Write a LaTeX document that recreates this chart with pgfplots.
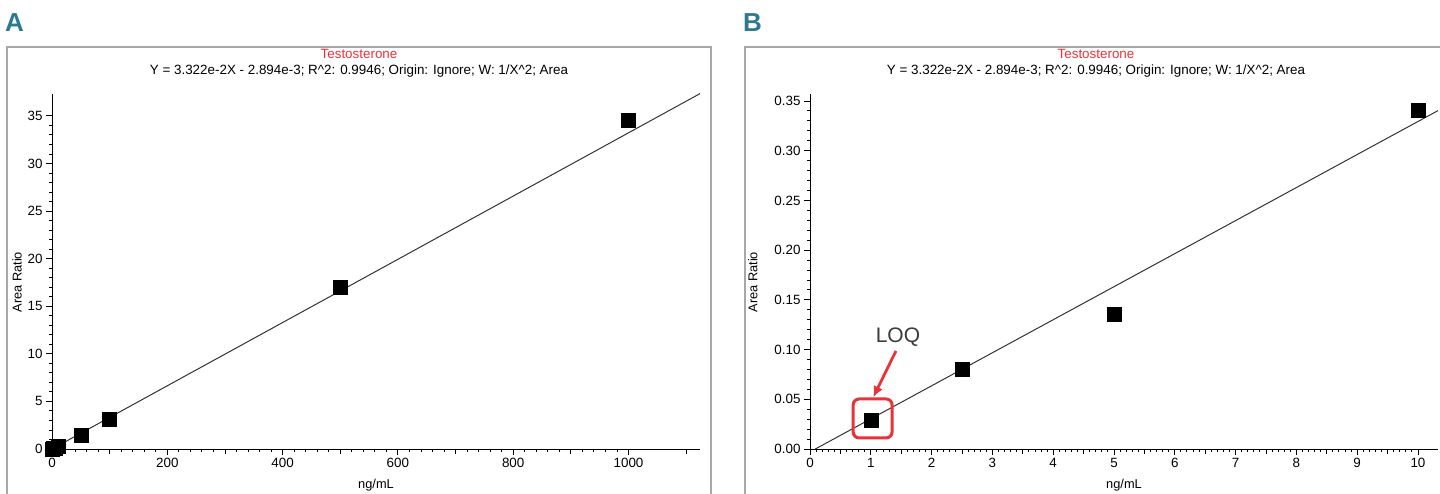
\documentclass[border=0pt]{standalone}
\usepackage{fontspec}
\setmainfont{Liberation Sans}
\usepackage{pgfplots}
\usepackage{pgfplotstable}
\usetikzlibrary{arrows.meta}
\pgfplotsset{compat=1.18}
\definecolor{panelteal}{HTML}{2B7A8F}
\definecolor{loqred}{HTML}{E8333A}
\definecolor{framegray}{HTML}{A8A8A8}
\definecolor{linegray}{HTML}{333333}
\definecolor{loqtext}{HTML}{3A3A3A}
\pgfplotstableread{
x y
1 0.029
2.5 0.080
5 0.136
10 0.341
50 1.47
100 3.15
500 16.95
1000 34.5
}\calib
\pgfplotstableread{
x y
1 0.029
2.5 0.080
5 0.136
10 0.341
}\caliblow
\pgfplotsset{
  calstyle/.style={
    scale only axis,
    anchor=south west,
    axis x line*=bottom,
    axis y line*=left,
    x axis line style={-, black, line width=0.9pt},
    y axis line style={-, black, line width=0.9pt},
    tick align=outside,
    major tick length=6pt,
    minor tick length=3pt,
    tick style={black, line width=0.9pt},
    ticklabel style={font=\fontsize{13.4}{13.4}\selectfont},
    /pgf/number format/assume math mode=true,
    /pgf/number format/1000 sep={},
    label style={font=\fontsize{12.8}{12.8}\selectfont},
    xlabel={ng/mL},
    ylabel={Area Ratio},
    xlabel style={at={(axis description cs:0.5,0)}, anchor=center, yshift=-36pt},
    minor y tick num=4,
    minor x tick num=9,
    clip=false,
    extra x tick labels={},
    extra x tick style={major tick length=4.5pt},
  }
}
\begin{document}
\begin{tikzpicture}
\path[use as bounding box] (0pt,0pt) rectangle (1440pt,-494pt);
\draw[framegray, line width=1.3pt] (7pt,-510pt) -- (7pt,-47pt) -- (711pt,-47pt) -- (711pt,-510pt);
\draw[framegray, line width=1.3pt] (745pt,-510pt) -- (745pt,-47pt) -- (1460pt,-47pt);
\node[font=\fontsize{26}{26}\selectfont\bfseries, text=panelteal, anchor=base west, inner sep=0pt] at (5pt,-32pt) {A};
\node[font=\fontsize{26}{26}\selectfont\bfseries, text=panelteal, anchor=base west, inner sep=0pt] at (743pt,-32pt) {B};
\node[font=\fontsize{13.4}{13.4}\selectfont, text=loqred, anchor=base, inner sep=0pt] at (359pt,-59pt) {Testosterone};
\node[font=\fontsize{13.4}{13.4}\selectfont, anchor=base, inner sep=0pt] at (359pt,-75pt) {Y = 3.322e-2X - 2.894e-3; R\^{}2: 0.9946; Origin: Ignore; W: 1/X\^{}2; Area};
\node[font=\fontsize{13.4}{13.4}\selectfont, text=loqred, anchor=base, inner sep=0pt] at (1096pt,-59pt) {Testosterone};
\node[font=\fontsize{13.4}{13.4}\selectfont, anchor=base, inner sep=0pt] at (1096pt,-75pt) {Y = 3.322e-2X - 2.894e-3; R\^{}2: 0.9946; Origin: Ignore; W: 1/X\^{}2; Area};

\begin{axis}[calstyle,
  at={(52pt,-449pt)}, width=648pt, height=355pt,
  xmin=0, xmax=1124, ymin=0, ymax=37.3,
  xtick={0,200,...,1000}, ytick={0,5,...,35},
  extra x ticks={100,300,500,700,900,1100},
  ylabel style={at={(axis description cs:-0.054,0.47)}, anchor=center},
]
\addplot[linegray, line width=1pt, no marks] coordinates {(0.0871,0) (1124,37.34)};
\addplot[only marks, mark=square*, mark size=7pt, black] table[x=x,y=y] {\calib};
\end{axis}

\begin{axis}[calstyle,
  at={(810pt,-449pt)}, width=628pt, height=355pt,
  xmin=0, xmax=10.33, ymin=0, ymax=0.357,
  xtick={0,1,...,10}, ytick={0,0.05,...,0.35},
  extra x ticks={0.5,1.5,2.5,3.5,4.5,5.5,6.5,7.5,8.5,9.5},
  scaled y ticks=false,
  yticklabel style={/pgf/number format/.cd, fixed, fixed zerofill, precision=2},
  ylabel style={at={(axis description cs:-0.091,0.47)}, anchor=center},
]
\addplot[linegray, line width=1pt, no marks] coordinates {(0.0871,0) (10.33,0.3403)};
\addplot[only marks, mark=square*, mark size=7pt, black] table[x=x,y=y] {\caliblow};
\draw[loqred, line width=3pt, rounded corners=6pt] (axis cs:0.71,0.0111) rectangle (axis cs:1.35,0.0503);
\draw[loqred, line width=2.8pt, -{Latex[length=11pt,width=10pt]}] (axis cs:1.414,0.0986) -- (axis cs:1.04,0.052);
\node[font=\fontsize{21}{21}\selectfont, text=loqtext] at (axis cs:1.447,0.1127) {LOQ};
\end{axis}
\end{tikzpicture}
\end{document}
